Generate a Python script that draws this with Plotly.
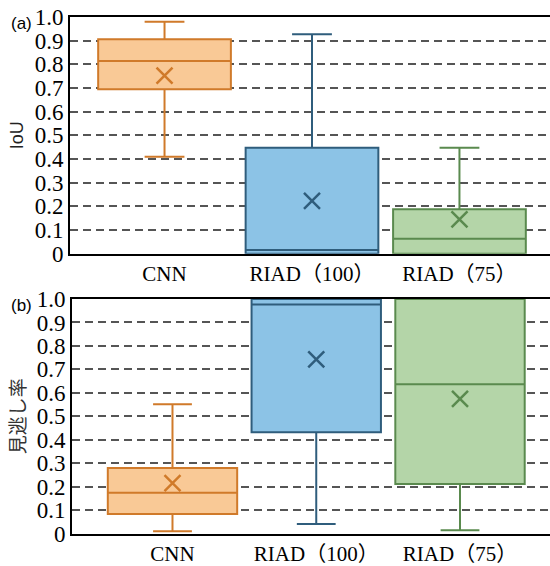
import plotly.graph_objects as go

# ---------------- data ----------------
categories = ["CNN", "RIAD（100）", "RIAD（75）"]

iou_lower = [0.41, 0.0, 0.0]
iou_q1 = [0.695, 0.0, 0.0]
iou_median = [0.814, 0.016, 0.063]
iou_q3 = [0.906, 0.448, 0.188]
iou_upper = [0.98, 0.927, 0.448]
iou_mean = [0.752, 0.223, 0.145]

miss_lower = [0.01, 0.04, 0.014]
miss_q1 = [0.083, 0.432, 0.211]
miss_median = [0.174, 0.977, 0.636]
miss_q3 = [0.279, 1.0, 1.0]
miss_upper = [0.551, 1.0, 1.0]
miss_mean = [0.215, 0.743, 0.574]

y_tickvals = [0, 0.1, 0.2, 0.3, 0.4, 0.5, 0.6, 0.7, 0.8, 0.9, 1.0]
y_ticktext = ["0", "0.1", "0.2", "0.3", "0.4", "0.5", "0.6", "0.7", "0.8", "0.9", "1.0"]

fills = ["#F9C996", "#8CC3E6", "#B4D5A8"]
lines = ["#D07A2A", "#2F5D7C", "#5A8A4E"]

SERIF = "Liberation Serif, Times New Roman, Noto Sans CJK JP, serif"
SANS = "Liberation Sans, Arial, sans-serif"

fig = go.Figure()


def add_panel(xa, ya, lo, q1, med, q3, up, mean):
    for i, cat in enumerate(categories):
        fig.add_trace(go.Box(
            x=[cat], q1=[q1[i]], median=[med[i]], q3=[q3[i]],
            lowerfence=[lo[i]], upperfence=[up[i]],
            fillcolor=fills[i], line=dict(color=lines[i], width=2),
            width=0.9, whiskerwidth=0.3, boxpoints=False,
            xaxis=xa, yaxis=ya, showlegend=False, hoverinfo="skip",
        ))
        fig.add_trace(go.Scatter(
            x=[cat], y=[mean[i]], mode="markers",
            marker=dict(symbol="x-thin", size=16,
                        line=dict(color=lines[i], width=2.5)),
            xaxis=xa, yaxis=ya, showlegend=False, hoverinfo="skip",
        ))


add_panel("x", "y", iou_lower, iou_q1, iou_median, iou_q3, iou_upper, iou_mean)
add_panel("x2", "y2", miss_lower, miss_q1, miss_median, miss_q3, miss_upper, miss_mean)

xcommon = dict(type="category", categoryorder="array", categoryarray=categories,
               showline=True, linecolor="black", linewidth=2, mirror=True,
               ticks="", showgrid=False, zeroline=False, automargin=False,
               tickfont=dict(family=SERIF, size=21, color="black"))
ycommon = dict(range=[0, 1.0], tickvals=y_tickvals, ticktext=y_ticktext,
               showline=True, linecolor="black", linewidth=2, mirror=False,
               ticks="", showgrid=True, gridcolor="#555555", gridwidth=2,
               griddash="8px,5px", zeroline=False, automargin=False,
               tickfont=dict(family=SERIF, size=23, color="black"))

fig.update_layout(
    width=550, height=566,
    margin=dict(l=0, r=0, t=0, b=0, autoexpand=False),
    paper_bgcolor="white", plot_bgcolor="white",
    showlegend=False,
    boxmode="overlay",
    xaxis=dict(xcommon, domain=[70 / 550, 1.0], range=[-0.641, 2.614], anchor="y"),
    yaxis=dict(ycommon, domain=[1 - 253.7 / 566, 1 - 17 / 566], anchor="x",
               title=dict(text="IoU", font=dict(family=SANS, size=18, color="#222"),
                          standoff=6)),
    xaxis2=dict(xcommon, domain=[72 / 550, 1.0], range=[-0.699, 2.626], anchor="y2"),
    yaxis2=dict(ycommon, domain=[1 - 533.5 / 566, 1 - 299 / 566], anchor="x2",
                title=dict(text="見逃し率",
                           font=dict(family="Noto Sans CJK JP, sans-serif", size=19, color="#333"),
                           standoff=6)),
    annotations=[
        dict(text="(a)", x=21 / 550, y=1 - 24 / 566, xref="paper", yref="paper",
             xanchor="center", yanchor="middle",
             showarrow=False, font=dict(family=SANS, size=17, color="black")),
        dict(text="(b)", x=21 / 550, y=1 - 305 / 566, xref="paper", yref="paper",
             xanchor="center", yanchor="middle",
             showarrow=False, font=dict(family=SANS, size=17, color="black")),
    ],
)

fig.write_html("out.html",
               config={"displayModeBar": False, "staticPlot": True},
               post_script="document.body.style.margin='0px';document.body.style.overflow='hidden';")
